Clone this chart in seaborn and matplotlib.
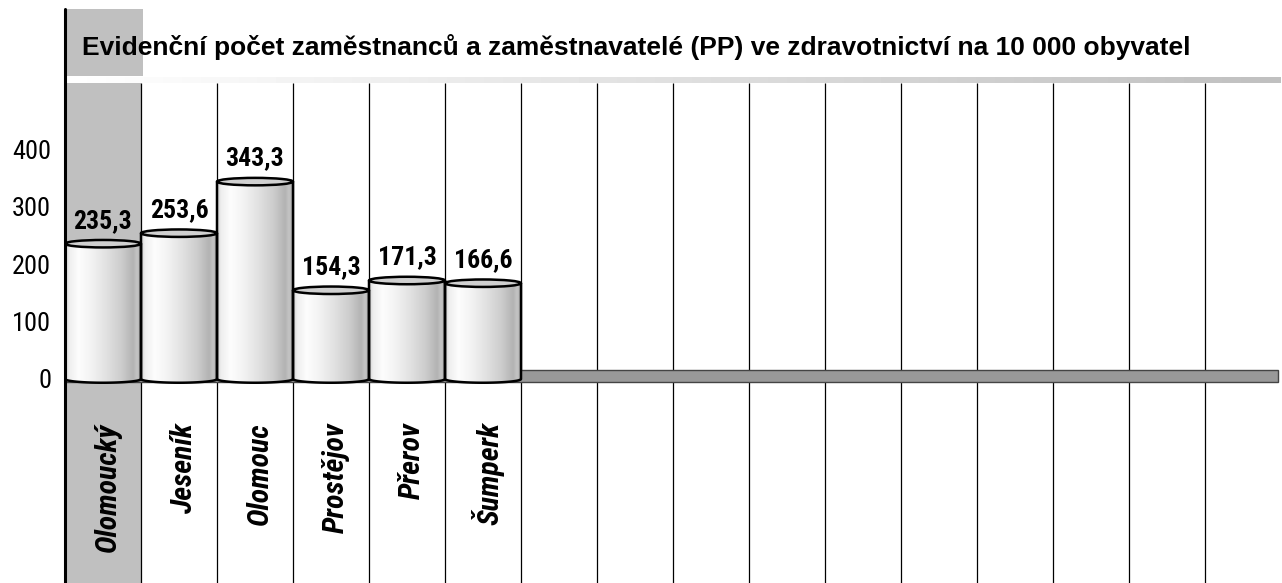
import numpy as np
import pandas as pd
import matplotlib
matplotlib.use("Agg")
import matplotlib.pyplot as plt
import seaborn as sns
from matplotlib.patches import Rectangle, Ellipse, PathPatch
from matplotlib.path import Path
from matplotlib.lines import Line2D

# ---- data ----
categories = ["Olomoucký", "Jeseník", "Olomouc", "Prostějov", "Přerov", "Šumperk"]
values = [235.3, 253.6, 343.3, 154.3, 171.3, 166.6]
ytick_values = [0, 100, 200, 300, 400]
ytick_labels = ["0", "100", "200", "300", "400"]
title = "Evidenční počet zaměstnanců a zaměstnavatelé (PP) ve zdravotnictví na 10 000 obyvatel"

# ---- layout ----
W, H = 1282, 583
N_SLOTS = 16
AX_L, AX_R, AX_T, AX_B = 65, 1281, 83, 583
ZERO_PX, PX_PER_UNIT = 379, 0.575

sns.set_style("white")
NARROW = ["Roboto Condensed", "Liberation Sans", "DejaVu Sans"]
REG = ["Liberation Sans", "DejaVu Sans"]
plt.rcParams["font.family"] = REG
plt.rcParams["text.color"] = "black"
plt.rcParams["ytick.color"] = "black"
plt.rcParams["ytick.labelcolor"] = "black"

def fx(px):
    return px / W

def fy(px):
    return 1 - px / H

fig = plt.figure(figsize=(W / 100, H / 100), dpi=100)
ax = fig.add_axes([fx(AX_L), 0, fx(AX_R) - fx(AX_L), 1 - (AX_T / H)])

df = pd.DataFrame({"kategorie": categories, "hodnota": values})
sns.barplot(data=df, x="kategorie", y="hodnota", order=categories, width=1.0,
            color="white", edgecolor="none", linewidth=0, ax=ax, zorder=4)

ax.set_xlim(-0.5, N_SLOTS - 0.5)
ymin = -(AX_B - ZERO_PX) / PX_PER_UNIT
ymax = (ZERO_PX - AX_T) / PX_PER_UNIT
ax.set_ylim(ymin, ymax)

# shaded first column
ax.axvspan(-0.5, 0.5, color="#c0c0c0", zorder=0, lw=0)
# column separators
ax.vlines(np.arange(N_SLOTS - 1) + 0.5, ymin, ymax, colors="black", lw=0.9, zorder=1)
# floor
ax.add_patch(Rectangle((-0.5, -5.5), N_SLOTS - 0.04, 21, facecolor="#999999",
                       edgecolor="#444444", lw=1.0, zorder=2))

# cylinder shading
pos = np.linspace(0, 1, 256)
shade = np.interp(pos, [0, 0.05, 0.18, 0.35, 0.55, 0.75, 0.9, 0.95, 1.0],
                  [0.80, 0.93, 0.99, 0.95, 0.88, 0.80, 0.70, 0.77, 0.68])
grad = np.tile(shade, (2, 1))
ell_h = 13
for bar in list(ax.patches):
    if not isinstance(bar, Rectangle) or bar.get_height() <= 20:
        continue
    x0, w, h = bar.get_x(), bar.get_width(), bar.get_height()
    if w > 1.5:
        continue
    xc = x0 + w / 2
    t = np.linspace(np.pi, 2 * np.pi, 40)
    bx = xc + (w / 2) * np.cos(t)
    by = (ell_h / 2) * np.sin(t)
    verts = [(x0, h)] + list(zip(bx, by)) + [(x0 + w, h), (x0, h)]
    codes = [Path.MOVETO] + [Path.LINETO] * (len(verts) - 2) + [Path.CLOSEPOLY]
    body = PathPatch(Path(verts, codes), facecolor="none", edgecolor="none", zorder=4)
    ax.add_patch(body)
    im = ax.imshow(grad, cmap="gray", vmin=0, vmax=1, aspect="auto",
                   extent=[x0, x0 + w, -ell_h / 2, h], interpolation="bilinear", zorder=4)
    im.set_clip_path(body)
    outline = PathPatch(Path(verts[:-1], [Path.MOVETO] + [Path.LINETO] * (len(verts) - 2)),
                        facecolor="none", edgecolor="black", lw=1.8, zorder=5)
    ax.add_patch(outline)
    ax.add_patch(Ellipse((xc, h), w, ell_h, facecolor="#d0d0d0", edgecolor="black",
                         lw=1.8, zorder=6))

ax.set_xlim(-0.5, N_SLOTS - 0.5)
ax.set_ylim(ymin, ymax)

# data labels
for i, v in enumerate(values):
    ax.text(i, v + 40, f"{v:.1f}".replace(".", ","), ha="center", va="center",
            fontsize=18.5, fontweight="bold", family=NARROW, zorder=7)

# category labels
y_lab = (ZERO_PX - 422) / PX_PER_UNIT
for i, c in enumerate(categories):
    ax.text(i + 0.07, y_lab, c, rotation=90, ha="center", va="top", fontsize=21.5,
            fontweight="bold", fontstyle="italic", family=NARROW, zorder=7)

ax.set_xticks([])
ax.set_xlabel("")
ax.set_ylabel("")
ax.set_yticks(ytick_values)
ax.set_yticklabels(ytick_labels)
ax.tick_params(axis="y", length=0, pad=10, labelsize=19, labelcolor="black")
for lab in ax.get_yticklabels():
    lab.set_family(NARROW)
for s in ax.spines.values():
    s.set_visible(False)

# gray column top part
fig.patches.append(Rectangle((fx(66), fy(76)), fx(143) - fx(66), fy(9) - fy(76),
                             transform=fig.transFigure, facecolor="#c0c0c0",
                             edgecolor="none", zorder=0))
# gradient strip under title
gax = fig.add_axes([fx(66), fy(83), fx(1281) - fx(66), fy(77) - fy(83)])
gstrip = np.tile(np.linspace(1.0, 0.75, 256), (2, 1))
gax.imshow(gstrip, cmap="gray", vmin=0, vmax=1, aspect="auto", interpolation="bilinear")
gax.set_axis_off()
# left axis line
fig.add_artist(Line2D([fx(65), fx(65)], [fy(9), fy(583)], transform=fig.transFigure,
                      color="black", lw=2.2, zorder=10))

fig.text(fx(82), fy(47), title, ha="left", va="center", fontsize=19,
         fontweight="bold", family=REG, color="black")

fig.savefig("out.png", dpi=100)
